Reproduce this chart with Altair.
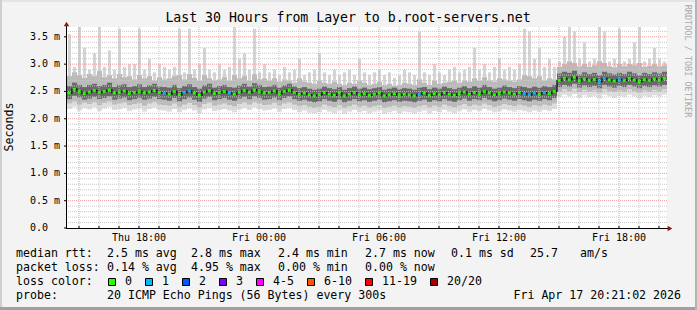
import altair as alt
import pandas as pd

# ---------------- data (milliseconds), one value per 15-minute step ----------------
median_ms = [
    2.47, 2.54, 2.50, 2.46, 2.49, 2.52, 2.48, 2.50, 2.53, 2.47,
    2.49, 2.51, 2.46, 2.48, 2.50, 2.47, 2.49, 2.52, 2.48, 2.47,
    2.45, 2.50, 2.44, 2.48, 2.51, 2.47, 2.43, 2.49, 2.52, 2.46,
    2.48, 2.50, 2.47, 2.45, 2.49, 2.52, 2.48, 2.53, 2.50, 2.47,
    2.48, 2.51, 2.46, 2.50, 2.53, 2.48, 2.45, 2.47, 2.44, 2.42,
    2.44, 2.48, 2.45, 2.43, 2.47, 2.42, 2.45, 2.48, 2.44, 2.46,
    2.43, 2.45, 2.47, 2.42, 2.44, 2.46, 2.43, 2.45, 2.44, 2.42,
    2.45, 2.47, 2.43, 2.46, 2.44, 2.48, 2.45, 2.43, 2.46, 2.49,
    2.45, 2.48, 2.46, 2.50, 2.47, 2.44, 2.46, 2.49, 2.47, 2.45,
    2.48, 2.46, 2.44, 2.47, 2.45, 2.48, 2.46, 2.50, 2.70, 2.74,
    2.71, 2.76, 2.69, 2.73, 2.70, 2.72, 2.68, 2.74, 2.71, 2.69,
    2.72, 2.70, 2.74, 2.71, 2.68, 2.72, 2.70, 2.73, 2.71, 2.74,
]
smoke_max = [
    3.55, 2.95, 3.68, 3.30, 2.90, 3.20, 3.68, 2.95, 3.25, 2.90,
    3.65, 2.95, 3.00, 3.00, 3.65, 2.90, 3.10, 2.85, 3.00, 2.95,
    2.90, 2.95, 3.65, 2.85, 3.65, 2.90, 3.00, 3.30, 2.90, 2.85,
    3.00, 2.90, 2.95, 3.68, 3.10, 3.20, 2.90, 3.65, 2.85, 3.00,
    2.85, 2.90, 2.80, 2.95, 2.85, 2.90, 3.10, 2.80, 2.85, 2.90,
    3.20, 2.85, 2.80, 2.90, 2.80, 2.85, 2.90, 2.80, 3.10, 2.85,
    2.80, 2.85, 2.90, 2.80, 2.85, 2.75, 2.80, 2.90, 2.85, 2.80,
    3.60, 2.85, 2.80, 3.00, 2.85, 2.80, 2.90, 2.95, 2.85, 2.90,
    2.95, 3.30, 2.90, 3.00, 2.85, 2.95, 3.10, 2.90, 2.95, 2.90,
    3.00, 3.65, 3.60, 3.10, 3.30, 2.95, 3.10, 2.95, 3.05, 3.50,
    3.68, 3.60, 3.10, 3.40, 3.05, 3.10, 3.68, 3.60, 3.05, 3.10,
    3.65, 3.05, 3.10, 3.40, 3.68, 3.05, 3.10, 3.30, 3.10, 3.05,
]
smoke_hi = [
    2.78, 2.85, 2.80, 2.75, 2.82, 2.78, 2.88, 2.76, 2.80, 2.74,
    2.82, 2.76, 2.78, 2.72, 2.80, 2.74, 2.78, 2.70, 2.76, 2.72,
    2.74, 2.78, 2.80, 2.72, 2.82, 2.75, 2.70, 2.80, 2.74, 2.70,
    2.72, 2.76, 2.70, 2.80, 2.74, 2.78, 2.70, 2.82, 2.72, 2.74,
    2.70, 2.74, 2.68, 2.72, 2.70, 2.66, 2.74, 2.68, 2.66, 2.64,
    2.70, 2.66, 2.64, 2.68, 2.64, 2.62, 2.66, 2.64, 2.70, 2.66,
    2.62, 2.64, 2.68, 2.62, 2.64, 2.60, 2.62, 2.66, 2.64, 2.62,
    2.72, 2.66, 2.62, 2.70, 2.64, 2.66, 2.68, 2.70, 2.66, 2.70,
    2.68, 2.74, 2.70, 2.76, 2.70, 2.68, 2.74, 2.72, 2.70, 2.68,
    2.72, 2.80, 2.78, 2.74, 2.78, 2.70, 2.74, 2.72, 2.95, 3.00,
    3.05, 3.02, 2.96, 3.00, 2.95, 2.98, 3.05, 3.02, 2.96, 2.94,
    3.00, 2.96, 3.00, 2.98, 3.02, 2.95, 2.97, 3.00, 2.96, 2.98,
]
core_hi = [
    2.60, 2.66, 2.62, 2.58, 2.62, 2.64, 2.60, 2.62, 2.66, 2.58,
    2.62, 2.63, 2.58, 2.60, 2.63, 2.58, 2.61, 2.64, 2.59, 2.58,
    2.57, 2.62, 2.56, 2.60, 2.63, 2.58, 2.55, 2.61, 2.64, 2.57,
    2.60, 2.62, 2.58, 2.57, 2.61, 2.64, 2.59, 2.65, 2.62, 2.58,
    2.59, 2.62, 2.57, 2.61, 2.64, 2.59, 2.56, 2.58, 2.55, 2.53,
    2.55, 2.59, 2.56, 2.54, 2.58, 2.53, 2.56, 2.59, 2.55, 2.57,
    2.54, 2.56, 2.58, 2.53, 2.55, 2.57, 2.54, 2.56, 2.55, 2.53,
    2.57, 2.58, 2.54, 2.57, 2.55, 2.59, 2.56, 2.54, 2.57, 2.60,
    2.56, 2.60, 2.57, 2.62, 2.58, 2.55, 2.57, 2.61, 2.58, 2.56,
    2.60, 2.58, 2.56, 2.59, 2.57, 2.60, 2.58, 2.62, 2.83, 2.86,
    2.84, 2.88, 2.81, 2.85, 2.82, 2.84, 2.80, 2.86, 2.83, 2.81,
    2.84, 2.82, 2.86, 2.83, 2.80, 2.84, 2.82, 2.85, 2.83, 2.86,
]
core_lo = [
    2.36, 2.42, 2.39, 2.35, 2.37, 2.40, 2.36, 2.38, 2.41, 2.35,
    2.37, 2.39, 2.34, 2.36, 2.38, 2.35, 2.37, 2.40, 2.36, 2.35,
    2.33, 2.38, 2.32, 2.36, 2.39, 2.35, 2.31, 2.37, 2.40, 2.34,
    2.36, 2.38, 2.35, 2.33, 2.37, 2.40, 2.36, 2.41, 2.38, 2.35,
    2.36, 2.39, 2.34, 2.38, 2.41, 2.36, 2.33, 2.35, 2.32, 2.30,
    2.32, 2.36, 2.33, 2.31, 2.35, 2.30, 2.33, 2.36, 2.32, 2.34,
    2.31, 2.33, 2.35, 2.30, 2.32, 2.34, 2.31, 2.33, 2.32, 2.30,
    2.33, 2.35, 2.31, 2.34, 2.32, 2.36, 2.33, 2.31, 2.34, 2.37,
    2.33, 2.36, 2.34, 2.38, 2.35, 2.32, 2.34, 2.37, 2.35, 2.33,
    2.36, 2.34, 2.32, 2.35, 2.33, 2.36, 2.34, 2.38, 2.58, 2.62,
    2.59, 2.64, 2.57, 2.61, 2.58, 2.60, 2.56, 2.62, 2.59, 2.57,
    2.60, 2.58, 2.62, 2.59, 2.56, 2.60, 2.58, 2.61, 2.59, 2.62,
]
smoke_lo = [
    2.28, 2.32, 2.26, 2.30, 2.27, 2.31, 2.25, 2.29, 2.32, 2.26,
    2.28, 2.30, 2.25, 2.27, 2.29, 2.24, 2.28, 2.31, 2.26, 2.25,
    2.24, 2.28, 2.22, 2.26, 2.29, 2.25, 2.21, 2.27, 2.30, 2.24,
    2.26, 2.28, 2.25, 2.23, 2.27, 2.30, 2.26, 2.31, 2.28, 2.25,
    2.26, 2.29, 2.24, 2.28, 2.30, 2.26, 2.23, 2.25, 2.22, 2.20,
    2.22, 2.26, 2.23, 2.21, 2.25, 2.20, 2.23, 2.26, 2.22, 2.24,
    2.21, 2.23, 2.25, 2.20, 2.22, 2.24, 2.21, 2.23, 2.22, 2.20,
    2.23, 2.25, 2.21, 2.24, 2.22, 2.26, 2.23, 2.21, 2.24, 2.27,
    2.23, 2.26, 2.24, 2.28, 2.25, 2.22, 2.24, 2.27, 2.25, 2.23,
    2.26, 2.24, 2.22, 2.25, 2.23, 2.26, 2.24, 2.28, 2.50, 2.54,
    2.51, 2.55, 2.49, 2.53, 2.50, 2.52, 2.48, 2.54, 2.51, 2.49,
    2.52, 2.50, 2.54, 2.51, 2.48, 2.52, 2.50, 2.53, 2.51, 2.54,
]
smoke_min = [
    2.18, 2.22, 2.15, 2.20, 2.17, 2.21, 2.14, 2.19, 2.22, 2.16,
    2.18, 2.20, 2.14, 2.17, 2.19, 2.13, 2.18, 2.21, 2.16, 2.15,
    2.13, 2.18, 2.12, 2.16, 2.19, 2.15, 2.10, 2.17, 2.20, 2.14,
    2.16, 2.18, 2.15, 2.12, 2.17, 2.20, 2.16, 2.21, 2.18, 2.15,
    2.16, 2.19, 2.13, 2.18, 2.20, 2.16, 2.12, 2.15, 2.11, 2.10,
    2.12, 2.16, 2.13, 2.10, 2.15, 2.09, 2.13, 2.16, 2.12, 2.14,
    2.10, 2.13, 2.15, 2.09, 2.12, 2.14, 2.10, 2.13, 2.12, 2.09,
    2.13, 2.15, 2.10, 2.14, 2.12, 2.16, 2.13, 2.10, 2.14, 2.17,
    2.13, 2.16, 2.14, 2.18, 2.15, 2.12, 2.14, 2.17, 2.15, 2.13,
    2.16, 2.14, 2.12, 2.15, 2.13, 2.16, 2.14, 2.18, 2.40, 2.44,
    2.41, 2.45, 2.38, 2.43, 2.40, 2.42, 2.37, 2.44, 2.41, 2.38,
    2.42, 2.40, 2.44, 2.41, 2.37, 2.42, 2.40, 2.43, 2.41, 2.44,
]
# steps where 1 of 20 pings was lost
loss_one_steps = [19, 23, 24, 32, 70, 91, 92, 93, 95, 106, 107, 110]

y_major_vals = [0.0, 0.5, 1.0, 1.5, 2.0, 2.5, 3.0, 3.5]
y_major_labels = ["0.0", "0.5 m", "1.0 m", "1.5 m", "2.0 m", "2.5 m", "3.0 m", "3.5 m"]
x_tick_hours = [3.6, 9.6, 15.6, 21.6, 27.6]
x_tick_labels = ["Thu 18:00", "Fri 00:00", "Fri 06:00", "Fri 12:00", "Fri 18:00"]
loss_names = ["0", "1", "2", "3", "4-5", "6-10", "11-19", "20/20"]
loss_colors = ["#26ff00", "#00b8ff", "#0059ff", "#7e00ff", "#ff00ff", "#ff5500", "#ff0000", "#a00000"]

title_text = "Last 30 Hours from Layer to b.root-servers.net"
row1 = ["median rtt:", "2.5 ms avg", "2.8 ms max", "2.4 ms min", "2.7 ms now", "0.1 ms sd", "25.7", "am/s"]
row2 = ["packet loss:", "0.14 % avg", "4.95 % max", "0.00 % min", "0.00 % now"]
row3_head = "loss color:"
row4 = ["probe:", "20 ICMP Echo Pings (56 Bytes) every 300s"]
stamp = "Fri Apr 17 20:21:02 2026"

# ---------------- layout ----------------
PL, PT, W, H = 67, 27, 600, 201
MONO = "DejaVu Sans Mono"
STEP_H = 0.25
row1_x = [16, 107, 191, 278, 365, 451, 530, 580]
row2_x = [16, 107, 191, 278, 365]
box_x = [108, 145, 182, 219, 256, 307, 365, 430]
row_y = [254, 268, 282, 296]

n = len(median_ms)
df = pd.DataFrame({
    "t0": [i * STEP_H for i in range(n)],
    "t1": [(i + 1) * STEP_H for i in range(n)],
    "med": median_ms, "smax": smoke_max, "shi": smoke_hi, "chi": core_hi,
    "clo": core_lo, "slo": smoke_lo, "smin": smoke_min,
})
df["tc"] = df["t0"] + STEP_H / 2
df["s0"] = df["t0"] + 0.05
df["s1"] = df["t0"] + 0.20
df["g0"] = df["t0"] + 0.03
df["g1"] = df["t0"] + 0.19
df["loss"] = ["1" if i in loss_one_steps else "0" for i in range(n)]

xs = alt.Scale(domain=[0, 30], nice=False, zero=False)
ys = alt.Scale(domain=[0, 3.68], nice=False, zero=False)


def X(f):
    return alt.X(f, type="quantitative", scale=xs, axis=None)


def Y(f):
    return alt.Y(f, type="quantitative", scale=ys, axis=None)


def band(lo, hi, color, x0="t0", x1="t1"):
    return alt.Chart(df).mark_rect(color=color, strokeWidth=0).encode(
        x=X(x0), x2=x1, y=Y(lo), y2=hi)


layers = []
layers += [
    band("shi", "smax", "#d4d4d4", "s0", "s1"),   # thin spikes
    band("smin", "shi", "#dedede"),
    band("slo", "shi", "#bababa"),
    band("clo", "chi", "#6a6a6a"),
]

# grid
y_minor = [round(k / 10, 1) for k in range(1, 37) if k % 5 != 0]
x_all = [round(0.6 + k, 1) for k in range(30)]
x_major = [h for h in x_all if abs(((h - 0.6) / 3) - round((h - 0.6) / 3)) < 1e-6]
x_minor = [h for h in x_all if h not in x_major]
gray_grid = "#c8c8c8"
red_grid = "#f19a9a"
layers.append(alt.Chart(pd.DataFrame({"v": y_minor})).mark_rule(
    color=gray_grid, strokeDash=[1, 1], strokeWidth=1).encode(y=Y("v")))
layers.append(alt.Chart(pd.DataFrame({"v": x_minor})).mark_rule(
    color=gray_grid, strokeDash=[1, 1], strokeWidth=1).encode(x=X("v")))
layers.append(alt.Chart(pd.DataFrame({"v": y_major_vals[1:]})).mark_rule(
    color=red_grid, strokeDash=[1, 1], strokeWidth=1).encode(y=Y("v")))
layers.append(alt.Chart(pd.DataFrame({"v": x_major})).mark_rule(
    color=red_grid, strokeDash=[1, 1], strokeWidth=1).encode(x=X("v")))

# median
layers.append(alt.Chart(df).mark_line(color="#111111", strokeWidth=1.3, interpolate="step").encode(
    x=X("tc"), y=Y("med")))
layers.append(alt.Chart(df).mark_rule(strokeWidth=2.6).encode(
    x=X("g0"), x2="g1", y=Y("med"),
    color=alt.Color("loss:N", scale=alt.Scale(domain=["0", "1"], range=loss_colors[:2]), legend=None)))

# axes
one = pd.DataFrame({"a": [0]})
layers.append(alt.Chart(one).mark_rule(color="black", strokeWidth=1).encode(
    x=alt.value(0), x2=alt.value(W + 2), y=alt.value(H + 0.5)))
layers.append(alt.Chart(one).mark_rule(color="black", strokeWidth=1).encode(
    x=alt.value(-0.5), y=alt.value(-3), y2=alt.value(H + 1)))
layers.append(alt.Chart(one).mark_point(shape="triangle-up", filled=True, size=30, color="#8b1a1a", opacity=1).encode(
    x=alt.value(-0.5), y=alt.value(-3)))
layers.append(alt.Chart(one).mark_point(shape="triangle-right", filled=True, size=30, color="#8b1a1a", opacity=1).encode(
    x=alt.value(W + 3), y=alt.value(H + 0.5)))
layers.append(alt.Chart(pd.DataFrame({"v": y_major_vals})).mark_rule(color="black").encode(
    y=Y("v"), x=alt.value(-3), x2=alt.value(0)))
layers.append(alt.Chart(pd.DataFrame({"v": x_all})).mark_rule(color="black").encode(
    x=X("v"), y=alt.value(H - 2), y2=alt.value(H)))

# axis labels
layers.append(alt.Chart(pd.DataFrame({"v": y_major_vals, "t": y_major_labels})).mark_text(
    align="left", baseline="middle", font=MONO, fontSize=10, color="black").encode(
    y=Y("v"), x=alt.value(30 - PL), text="t:N"))
layers.append(alt.Chart(pd.DataFrame({"v": x_tick_hours, "t": x_tick_labels})).mark_text(
    align="center", baseline="middle", font=MONO, fontSize=10, color="black").encode(
    x=X("v"), y=alt.value(238 - PT), text="t:N"))


def label(text, x, y, size=11.6, align="left", color="black", angle=0):
    return alt.Chart(pd.DataFrame({"t": [text]})).mark_text(
        align=align, baseline="middle", font=MONO, fontSize=size, color=color, angle=angle).encode(
        x=alt.value(x - PL), y=alt.value(y - PT), text="t:N")


layers.append(label(title_text, 348, 18, size=13.2, align="center"))
layers.append(label("Seconds", 10, 127, size=11.6, align="center", angle=270))
layers.append(label("RRDTOOL / TOBI OETIKER", 688, 61, size=8.5, align="center", color="#a9a9a9", angle=90))
for t, x in zip(row1, row1_x):
    layers.append(label(t, x, row_y[0]))
for t, x in zip(row2, row2_x):
    layers.append(label(t, x, row_y[1]))
layers.append(label(row3_head, 16, row_y[2]))
for name, col, x in zip(loss_names, loss_colors, box_x):
    layers.append(alt.Chart(one).mark_rect(color=col, stroke="black", strokeWidth=1).encode(
        x=alt.value(x - PL + 0.5), x2=alt.value(x - PL + 7.5),
        y=alt.value(row_y[2] - PT - 3.5), y2=alt.value(row_y[2] - PT + 3.5)))
    layers.append(label(name, x + 17, row_y[2]))
layers.append(label(row4[0], 16, row_y[3]))
layers.append(label(row4[1], 107, row_y[3]))
layers.append(label(stamp, 681, row_y[3], align="right"))

# frame
layers.append(alt.Chart(one).mark_rule(color="#e4e4e4", strokeWidth=2).encode(
    x=alt.value(-PL), x2=alt.value(697 - PL), y=alt.value(1 - PT)))
layers.append(alt.Chart(one).mark_rule(color="#cfcfcf", strokeWidth=2).encode(
    x=alt.value(1 - PL), y=alt.value(-PT), y2=alt.value(310 - PT)))
layers.append(alt.Chart(one).mark_rule(color="#a0a0a0", strokeWidth=3).encode(
    x=alt.value(-PL), x2=alt.value(697 - PL), y=alt.value(308.5 - PT)))
layers.append(alt.Chart(one).mark_rule(color="#b4b4b4", strokeWidth=2).encode(
    x=alt.value(696 - PL), y=alt.value(-PT), y2=alt.value(310 - PT)))

chart = alt.layer(*layers).properties(
    width=W, height=H,
    padding={"left": PL, "top": PT, "right": 697 - PL - W, "bottom": 310 - PT - H},
    autosize=alt.AutoSizeParams(type="none"),
    background="#f3f3f3",
).configure_view(stroke=None, fill="white")

chart.save("out.html", embed_options={"renderer": "svg", "actions": False})
